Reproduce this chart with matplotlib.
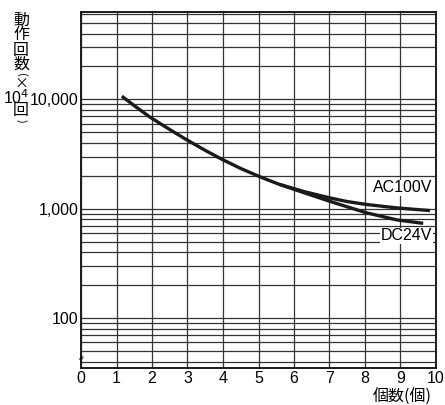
import numpy as np
import matplotlib
matplotlib.use("Agg")
import matplotlib.pyplot as plt

# curve values (x = count, y = operations)
common_x = [1.15, 1.5, 1.94, 2.5, 2.98, 3.5, 3.96, 4.5, 4.95, 5.3, 5.6]
common_y = [10700, 8770, 6900, 5300, 4270, 3420, 2845, 2335, 2020, 1816, 1667]
ac_x = [5.6, 6.3, 7.0, 7.5, 8.05, 8.9, 9.83]
ac_y = [1667, 1432, 1259, 1164, 1094, 1018, 963]
dc_x = [5.6, 6.3, 7.0, 7.5, 8.05, 8.9, 9.64]
dc_y = [1667, 1396, 1173, 1042, 917, 791, 736]

xticks = list(range(0, 11))
yticks = [100, 1000, 10000]
ytick_labels = ["100", "1,000", "10,000"]

jp = ["Noto Sans CJK JP", "DejaVu Sans"]
num = "Liberation Sans"
fs = 11.5

fig = plt.figure(figsize=(4.45, 4.05), dpi=100)
ax = fig.add_axes([81/445, 37/405, 355/445, 356/405])

ax.set_yscale("log")
ax.set_xlim(0, 10)
ax.set_ylim(35, 63000)

# grid: integer verticals, log minor horizontals
for xv in xticks:
    ax.axvline(xv, color="#333333", lw=0.9, zorder=1)
for dec in [10, 100, 1000, 10000]:
    for m in range(1, 10):
        v = dec * m
        if 35 < v < 63000:
            ax.axhline(v, color="#333333", lw=0.9, zorder=1)

ax.plot(common_x + ac_x[1:], common_y + ac_y[1:], color="#1a1a1a", lw=2.4,
        solid_capstyle="butt", zorder=3)
ax.plot(dc_x, dc_y, color="#1a1a1a", lw=2.4, solid_capstyle="butt", zorder=3)

ax.text(9.9, 1550, "AC100V", ha="right", va="center", fontsize=fs,
        family=num, zorder=4,
        bbox=dict(facecolor="white", edgecolor="none", pad=0.6))
ax.text(9.9, 565, "DC24V", ha="right", va="center", fontsize=fs,
        family=num, zorder=4,
        bbox=dict(facecolor="white", edgecolor="none", pad=0.6))

ax.set_xticks(xticks)
ax.set_xticklabels([str(t) for t in xticks], family=num, fontsize=fs)
ax.set_yticks(yticks)
ax.set_yticklabels(ytick_labels, family=num, fontsize=fs)
ax.yaxis.set_minor_locator(matplotlib.ticker.NullLocator())
ax.tick_params(axis="both", length=0, pad=2)
for s in ax.spines.values():
    s.set_linewidth(1.4)
    s.set_color("#1a1a1a")

# axis break mark
ax.text(0, 44, "≈", ha="center", va="center", fontsize=6, family="DejaVu Sans",
        rotation=60, zorder=5)

# vertical y label
H = 405.0
def put(s, xpx, ypx, size=fs, **kw):
    fig.text(xpx/445, 1 - ypx/H, s, ha="center", va="center", fontsize=size,
             family=jp, **kw)

put("動", 21, 20)
put("作", 21, 35)
put("回", 21, 50)
put("数", 21, 64)
put("(", 21, 75, size=8, rotation=-90)
put("×", 21, 84, size=10)
fig.text(3/445, 1 - 104/H, "10$^{4}$", ha="left", va="baseline", fontsize=fs,
         family=num)
put("回", 21, 111)
put(")", 21, 121, size=8, rotation=-90)

fig.text(432/445, 1 - 397/H, "個数(個)", ha="right", va="center", fontsize=fs,
         family=jp)

fig.savefig("out.png", dpi=100)
